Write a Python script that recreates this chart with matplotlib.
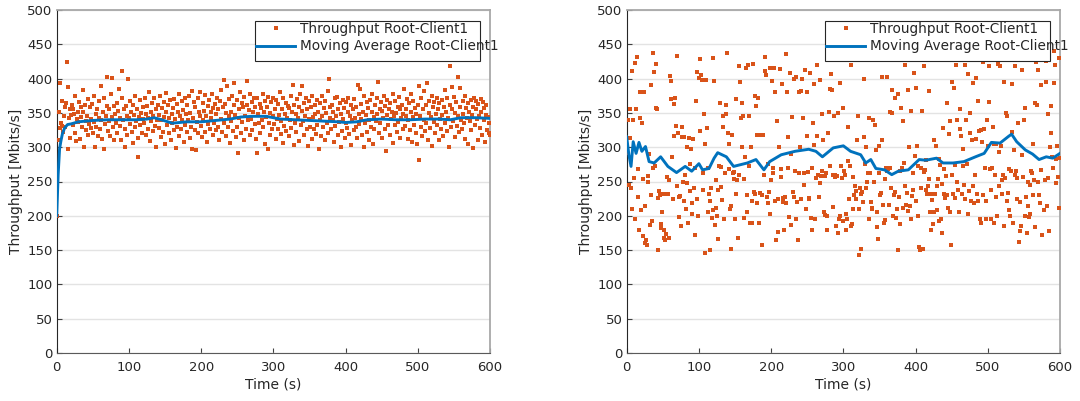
import numpy as np
import matplotlib
matplotlib.use("Agg")
import matplotlib.pyplot as plt
from matplotlib.patches import Rectangle
from matplotlib.lines import Line2D

# Throughput samples, one per second (t = 1..600)
left_tp = [
    200, 310, 352, 328, 393, 336, 331, 367, 322, 345, 330, 358, 365, 424, 298, 388, 342, 355, 313, 347,
    361, 333, 356, 349, 320, 375, 309, 341, 352, 337, 366, 312, 344, 358, 329, 383, 351, 300, 362, 338,
    325, 346, 370, 318, 334, 359, 341, 328, 363, 320, 374, 337, 301, 349, 330, 355, 317, 368, 343, 326,
    340, 389, 312, 352, 297, 371, 334, 346, 360, 402, 323, 338, 355, 316, 378, 344, 401, 329, 360, 311,
    348, 336, 365, 320, 353, 385, 331, 343, 310, 372, 411, 339, 355, 300, 327, 360, 345, 318, 400, 342,
    334, 368, 351, 322, 362, 306, 347, 329, 375, 338, 356, 313, 286, 344, 369, 332, 350, 321, 358, 341,
    335, 372, 318, 349, 360, 327, 343, 381, 309, 352, 338, 365, 324, 346, 371, 331, 355, 301, 340, 362,
    328, 347, 374, 315, 339, 357, 322, 366, 344, 305, 351, 379, 333, 361, 320, 342, 369, 311, 348, 336,
    357, 325, 370, 341, 299, 363, 330, 352, 378, 317, 345, 326, 368, 339, 354, 308, 372, 333, 349, 322,
    361, 340, 375, 314, 350, 329, 382, 297, 343, 366, 325, 358, 296, 337, 371, 320, 352, 346, 380, 331,
    315, 364, 339, 353, 322, 376, 345, 308, 360, 334, 369, 327, 351, 342, 378, 318, 357, 336, 363, 325,
    348, 372, 330, 355, 311, 367, 341, 384, 322, 358, 398, 335, 363, 317, 350, 389, 329, 345, 370, 306,
    352, 338, 375, 324, 361, 393, 347, 315, 369, 330, 291, 356, 343, 380, 321, 365, 337, 358, 310, 373,
    346, 327, 362, 397, 339, 354, 318, 377, 341, 366, 325, 352, 372, 334, 359, 312, 292, 371, 349, 336,
    363, 321, 357, 340, 378, 330, 352, 305, 368, 344, 359, 298, 373, 335, 350, 318, 366, 327, 345, 372,
    334, 356, 312, 369, 341, 326, 363, 347, 381, 319, 338, 355, 306, 372, 331, 349, 365, 323, 342, 360,
    316, 357, 339, 375, 328, 351, 390, 303, 362, 336, 348, 322, 370, 343, 359, 309, 377, 332, 353, 389,
    338, 364, 318, 346, 371, 327, 355, 302, 341, 367, 330, 358, 312, 375, 344, 326, 361, 349, 319, 369,
    333, 352, 297, 365, 340, 316, 374, 345, 329, 357, 368, 310, 350, 336, 382, 321, 400, 343, 358, 327,
    362, 339, 351, 308, 371, 331, 346, 373, 318, 355, 337, 364, 300, 348, 324, 369, 341, 357, 313, 335,
    366, 328, 352, 372, 319, 345, 361, 303, 339, 356, 325, 370, 343, 330, 359, 314, 391, 348, 334, 385,
    341, 363, 318, 352, 301, 374, 335, 347, 366, 322, 357, 340, 311, 369, 330, 352, 377, 304, 344, 326,
    361, 338, 372, 349, 395, 320, 356, 335, 366, 313, 353, 342, 375, 327, 360, 294, 347, 369, 332, 355,
    318, 364, 341, 352, 378, 306, 345, 333, 368, 350, 322, 359, 337, 373, 314, 355, 343, 362, 327, 349,
    385, 331, 356, 346, 370, 312, 339, 364, 325, 352, 377, 308, 344, 367, 333, 357, 320, 349, 305, 362,
    281, 389, 345, 330, 371, 317, 356, 340, 382, 323, 361, 336, 393, 311, 350, 368, 328, 344, 375, 302,
    359, 337, 366, 320, 349, 372, 333, 355, 310, 364, 341, 327, 369, 347, 316, 358, 384, 335, 352, 324,
    371, 343, 300, 362, 419, 329, 356, 388, 338, 373, 315, 350, 366, 331, 403, 345, 322, 359, 387, 340,
    326, 368, 349, 335, 374, 312, 357, 343, 365, 304, 351, 338, 369, 325, 347, 359, 299, 372, 333, 355,
    368, 341, 310, 363, 346, 328, 370, 352, 318, 366, 339, 357, 308, 347, 362, 325, 344, 320, 336, 318,
]

right_tp = [
    292, 340, 245, 313, 355, 240, 210, 411, 340, 255, 196, 423, 355, 431, 268, 228, 180, 380, 342, 209,
    335, 253, 170, 380, 215, 161, 165, 157, 258, 250, 290, 186, 390, 231, 192, 438, 270, 410, 273, 357,
    421, 355, 226, 150, 236, 230, 182, 188, 205, 232, 168, 180, 164, 232, 174, 256, 232, 168, 252, 404,
    396, 370, 285, 225, 316, 363, 372, 331, 433, 244, 320, 198, 227, 229, 185, 315, 330, 250, 315, 222,
    260, 210, 300, 248, 190, 313, 275, 236, 297, 219, 203, 312, 240, 172, 270, 368, 410, 225, 200, 401,
    324, 428, 405, 398, 237, 262, 348, 146, 305, 398, 328, 269, 205, 232, 150, 222, 240, 197, 208, 430,
    396, 186, 252, 212, 200, 166, 237, 273, 365, 271, 242, 223, 330, 345, 195, 263, 362, 348, 437, 320,
    268, 305, 210, 215, 152, 318, 262, 254, 264, 196, 232, 370, 252, 168, 418, 259, 395, 342, 364, 300,
    346, 253, 197, 285, 415, 230, 205, 420, 273, 345, 189, 300, 221, 190, 422, 235, 375, 232, 360, 318,
    218, 371, 190, 233, 318, 318, 230, 158, 318, 260, 431, 411, 405, 228, 218, 275, 235, 415, 202, 252,
    396, 270, 263, 416, 380, 222, 165, 338, 176, 225, 301, 414, 268, 257, 392, 220, 226, 180, 228, 218,
    436, 380, 315, 270, 198, 408, 290, 187, 344, 235, 228, 399, 266, 195, 402, 220, 165, 381, 263, 300,
    225, 382, 400, 343, 245, 262, 412, 210, 380, 317, 264, 224, 226, 408, 197, 270, 180, 335, 392, 303,
    195, 255, 316, 420, 260, 228, 248, 398, 258, 349, 265, 310, 206, 201, 258, 262, 200, 180, 320, 352,
    385, 272, 407, 384, 260, 213, 345, 256, 260, 185, 258, 350, 175, 196, 200, 394, 273, 255, 192, 357,
    265, 259, 179, 202, 195, 280, 330, 225, 272, 185, 420, 188, 210, 257, 230, 244, 236, 225, 311, 345,
    210, 143, 240, 152, 232, 235, 220, 400, 315, 276, 241, 300, 250, 262, 343, 195, 262, 220, 212, 210,
    340, 250, 250, 332, 296, 205, 183, 166, 262, 302, 230, 233, 402, 310, 216, 189, 194, 254, 270, 402,
    265, 268, 216, 351, 270, 240, 350, 383, 200, 230, 235, 372, 197, 210, 150, 378, 228, 265, 188, 357,
    269, 211, 338, 277, 243, 420, 216, 233, 207, 384, 300, 215, 353, 196, 229, 262, 237, 408, 287, 222,
    386, 302, 200, 272, 155, 150, 240, 270, 353, 152, 264, 418, 267, 281, 238, 232, 244, 382, 254, 205,
    232, 180, 223, 188, 310, 205, 232, 302, 209, 243, 254, 283, 193, 274, 196, 246, 175, 328, 232, 268,
    226, 258, 230, 365, 212, 319, 338, 205, 157, 395, 260, 232, 386, 226, 274, 420, 249, 340, 238, 206,
    327, 356, 316, 232, 273, 298, 245, 225, 420, 340, 275, 203, 407, 236, 350, 320, 222, 310, 244, 393,
    218, 260, 312, 401, 232, 367, 222, 324, 195, 325, 190, 308, 424, 230, 326, 270, 222, 195, 340, 302,
    418, 366, 268, 237, 196, 270, 329, 304, 190, 260, 305, 228, 200, 422, 243, 293, 418, 302, 252, 232,
    260, 395, 185, 255, 350, 222, 345, 233, 268, 208, 200, 265, 392, 322, 190, 296, 260, 418, 265, 255,
    225, 336, 162, 220, 178, 185, 288, 412, 257, 340, 200, 357, 227, 175, 250, 215, 198, 245, 203, 265,
    262, 305, 230, 252, 183, 365, 424, 362, 250, 412, 230, 218, 390, 267, 172, 432, 440, 208, 252, 395,
    425, 215, 348, 255, 178, 300, 320, 360, 285, 270, 393, 440, 420, 248, 283, 302, 256, 430, 212, 284,
]

# Moving average curves, read at selected times
left_ma_t = [0, 2, 4, 6, 8, 11, 15, 20, 30, 40, 50, 70, 90, 110, 125, 135, 145, 160, 180, 200,
             220, 240, 255, 270, 290, 310, 330, 350, 370, 390, 400, 415, 430, 450, 470, 490,
             510, 530, 545, 560, 580, 600]
left_ma = [200, 260, 298, 310, 320, 328, 333, 334, 337, 338, 339, 340, 340, 340, 341, 343, 340, 335, 337, 337,
           339, 341, 344, 345, 345, 341, 340, 339, 338, 337, 336, 337, 340, 341, 340, 340,
           341, 341, 340, 343, 343, 342]

right_ma_t = [0, 3, 6, 9, 13, 17, 21, 26, 31, 38, 47, 57, 69, 81, 90, 100, 105, 114, 121, 126,
              138, 148, 167, 179, 190, 198, 214, 233, 252, 262, 271, 286, 300, 310, 324, 331,
              338, 345, 357, 367, 376, 390, 405, 414, 429, 438, 452, 467, 483, 495, 505, 517,
              529, 533, 540, 552, 562, 571, 581, 590, 600]
right_ma = [315, 289, 272, 308, 291, 307, 294, 301, 279, 277, 286, 272, 263, 272, 265, 276, 267, 269, 284, 292,
            286, 272, 277, 282, 267, 279, 289, 294, 297, 294, 286, 299, 302, 294, 289, 277,
            282, 269, 267, 260, 265, 267, 282, 281, 284, 277, 277, 279, 286, 291, 307, 306,
            316, 319, 308, 296, 290, 282, 286, 284, 291]

seconds = np.arange(1, 601)
orange = "#D95319"
blue = "#0072BD"
txt = "#262626"

plt.rcParams["font.family"] = "DejaVu Sans"

fig = plt.figure(figsize=(10.8, 4.01), dpi=100)
W, H = 1080.0, 401.0
boxes = [(56.7, 490.0), (626.7, 1060.0)]
series = [(left_tp, left_ma_t, left_ma), (right_tp, right_ma_t, right_ma)]

for (x0, x1), (tp, ma_t, ma) in zip(boxes, series):
    ax = fig.add_axes([x0 / W, (H - 353) / H, (x1 - x0) / W, 343 / H])
    ax.plot(seconds, tp, linestyle="none", marker="s", markersize=2.4,
            markeredgewidth=0, color=orange, zorder=3)
    ax.plot(ma_t, ma, color=blue, linewidth=2.1, zorder=4)
    ax.set_xlim(0, 600)
    ax.set_ylim(0, 500)
    ax.set_xticks(np.arange(0, 601, 100))
    ax.set_yticks(np.arange(0, 501, 50))
    ax.yaxis.grid(True, color="#e3e3e3", linewidth=1.0, zorder=0)
    ax.set_axisbelow(True)
    ax.tick_params(direction="in", length=3.5, width=0.8, colors="#404040",
                   labelcolor=txt, labelsize=9.5)
    ax.tick_params(axis="x", pad=6)
    ax.tick_params(axis="y", pad=3)
    ax.spines["left"].set_color("#262626")
    ax.spines["bottom"].set_color("#5a5a5a")
    for s in ["top", "right"]:
        ax.spines[s].set_color("#a8a8a8")
        ax.spines[s].set_linewidth(1.3)
    ax.set_xlabel("Time (s)", fontsize=10, color=txt, labelpad=2)
    ax.set_ylabel("Throughput [Mbits/s]", fontsize=10, color=txt, labelpad=3)

    # legend frame (white box) and entries
    ax.add_patch(Rectangle(((255.0 - 56.7) / 433.3, (353 - 61) / 343.0),
                           225.0 / 433.3, 40.0 / 343.0, transform=ax.transAxes,
                           facecolor="white", edgecolor="#262626", linewidth=0.8,
                           zorder=5, clip_on=False))
    handles = [Line2D([], [], linestyle="none", marker="s", markersize=2.4,
                      markeredgewidth=0, color=orange),
               Line2D([], [], color=blue, linewidth=2.1)]
    leg = ax.legend(handles, ["Throughput Root-Client1", "Moving Average Root-Client1"],
                    loc="upper left", bbox_to_anchor=((256.0 - 56.7) / 433.3, (353 - 22) / 343.0),
                    frameon=False, fontsize=9.8, handlelength=2.9, handletextpad=0.3,
                    borderpad=0.0, borderaxespad=0.0, labelspacing=0.25)
    leg.set_zorder(6)
    for t in leg.get_texts():
        t.set_color(txt)

fig.savefig("out.png", dpi=100)
